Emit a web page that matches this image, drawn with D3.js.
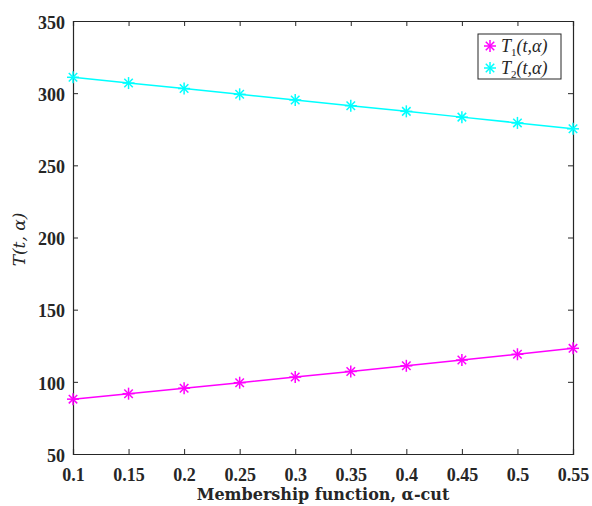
<!DOCTYPE html>
<html>
<head>
<meta charset="utf-8">
<script src="https://cdn.jsdelivr.net/npm/d3@7"></script>
<style>
  body { margin: 0; background: #fff; }
  svg { display: block; }
</style>
</head>
<body>
<div id="chart"></div>
<script>
// data
const alphaCuts = [0.1, 0.15, 0.2, 0.25, 0.3, 0.35, 0.4, 0.45, 0.5, 0.55];
const t1Values = [88, 91.8, 95.6, 99.4, 103.3, 107.2, 111.1, 115.1, 119.1, 123.2];
const t2Values = [311, 307, 303.2, 299.2, 295.3, 291.3, 287.4, 283.4, 279.4, 275.3];
const xTicks = [0.1, 0.15, 0.2, 0.25, 0.3, 0.35, 0.4, 0.45, 0.5, 0.55];
const yTicks = [50, 100, 150, 200, 250, 300, 350];

const width = 592, height = 506;
const margin = {top: 21, right: 19, bottom: 52, left: 73};
const innerW = width - margin.left - margin.right;
const innerH = height - margin.top - margin.bottom;

const svg = d3.select("#chart").append("svg")
    .attr("width", width)
    .attr("height", height);

const x = d3.scaleLinear().domain([0.1, 0.55]).range([0, innerW]);
const y = d3.scaleLinear().domain([50, 350]).range([innerH, 0]);

const g = svg.append("g").attr("transform", `translate(${margin.left},${margin.top})`);

const tickFont = "bold 18px 'Liberation Serif', 'Times New Roman', serif";

// axes, ticks point inward like matlab
const xAxis = g.append("g")
    .attr("transform", `translate(0,${innerH})`)
    .call(d3.axisBottom(x).tickValues(xTicks).tickSize(-5).tickPadding(14).tickFormat(d3.format("")));
const yAxis = g.append("g")
    .call(d3.axisLeft(y).tickValues(yTicks).tickSize(-5).tickPadding(8));
g.append("g")
    .call(d3.axisTop(x).tickValues(xTicks).tickSize(-5).tickFormat(""));
g.append("g")
    .attr("transform", `translate(${innerW},0)`)
    .call(d3.axisRight(y).tickValues(yTicks).tickSize(-5).tickFormat(""));

g.selectAll(".domain").attr("stroke", "#262626").attr("stroke-width", 1.2);
g.selectAll(".tick line").attr("stroke", "#262626");
xAxis.selectAll("text").style("font", tickFont).attr("fill", "#262626");
yAxis.selectAll("text").style("font", tickFont).attr("fill", "#262626").attr("dy", "0.4em");

// lines
const series = [
    {name: "1", values: t1Values, color: "#ff00ff"},
    {name: "2", values: t2Values, color: "#00ffff"}
];

const line = d3.line()
    .x((d, i) => x(alphaCuts[i]))
    .y(d => y(d));

function asterisk(sel, r) {
    [0, 45, 90, 135].forEach(a => {
        const rad = a * Math.PI / 180;
        sel.append("line")
            .attr("x1", -r * Math.cos(rad)).attr("y1", -r * Math.sin(rad))
            .attr("x2", r * Math.cos(rad)).attr("y2", r * Math.sin(rad));
    });
}

series.forEach(s => {
    g.append("path")
        .datum(s.values)
        .attr("fill", "none")
        .attr("stroke", s.color)
        .attr("stroke-width", 1.5)
        .attr("d", line);

    g.append("g")
        .selectAll("g")
        .data(s.values)
        .join("g")
        .attr("transform", (d, i) => `translate(${x(alphaCuts[i])},${y(d)})`)
        .attr("stroke", s.color)
        .attr("stroke-width", 1.5)
        .each(function () { asterisk(d3.select(this), 6); });
});

// legend
const legend = svg.append("g").attr("transform", "translate(478,34)");
legend.append("rect")
    .attr("width", 83).attr("height", 45)
    .attr("fill", "#fff")
    .attr("stroke", "#262626")
    .attr("stroke-width", 1);

series.forEach((s, i) => {
    const row = legend.append("g").attr("transform", `translate(12,${12 + i * 22})`);
    row.append("g").attr("stroke", s.color).attr("stroke-width", 1.5)
        .call(sel => asterisk(sel, 6));
    const t = row.append("text")
        .attr("x", 11).attr("y", 6)
        .style("font", "italic 18px 'Liberation Serif', 'Times New Roman', serif")
        .attr("fill", "#262626");
    t.append("tspan").text("T");
    t.append("tspan").attr("dy", 4).style("font-size", "11px").style("font-style", "normal").text(s.name);
    t.append("tspan").attr("dy", -4).text("(t,α)");
});

// axis labels
svg.append("text")
    .attr("x", margin.left + innerW / 2)
    .attr("y", 500)
    .attr("text-anchor", "middle")
    .style("font", "bold 16px 'DejaVu Serif', serif")
    .attr("fill", "#262626")
    .text("Membership function, α-cut");

svg.append("text")
    .attr("transform", `translate(25,${margin.top + innerH / 2 + 2}) rotate(-90)`)
    .attr("text-anchor", "middle")
    .style("font", "italic 17px 'DejaVu Serif', serif")
    .attr("fill", "#262626")
    .text("T(t, α)");
</script>
</body>
</html>
